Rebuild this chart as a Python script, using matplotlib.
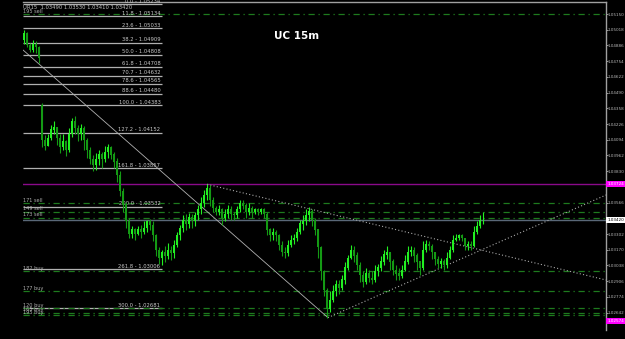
import matplotlib.pyplot as plt
import numpy as np

# 15m candles (price), open of each bar = previous close except the gap bar
first_open = 1.0493
gap_index = 6
gap_open = 1.0438

closes = [
    1.0499, 1.0489, 1.0485, 1.0490, 1.0487, 1.0478, 1.0409, 1.0404, 1.0411, 1.0418,
    1.0420, 1.0411, 1.0403, 1.0408, 1.0401, 1.0414, 1.0425, 1.0419, 1.0414, 1.0419,
    1.0409, 1.0401, 1.0393, 1.0388, 1.0393, 1.0397, 1.0393, 1.0399, 1.0403, 1.0397,
    1.0391, 1.0380, 1.0366, 1.0355, 1.0341, 1.0330, 1.0334, 1.0330, 1.0334, 1.0332,
    1.0335, 1.0341, 1.0338, 1.0329, 1.0317, 1.0310, 1.0315, 1.0312, 1.0317, 1.0314,
    1.0321, 1.0329, 1.0335, 1.0342, 1.0339, 1.0344, 1.0341, 1.0346, 1.0351, 1.0356,
    1.0363, 1.0369, 1.0359, 1.0352, 1.0349, 1.0351, 1.0344, 1.0347, 1.0351, 1.0347,
    1.0346, 1.0351, 1.0356, 1.0354, 1.0349, 1.0352, 1.0349, 1.0351, 1.0349, 1.0351,
    1.0347, 1.0334, 1.0329, 1.0332, 1.0329, 1.0321, 1.0315, 1.0314, 1.0321, 1.0325,
    1.0327, 1.0332, 1.0339, 1.0341, 1.0346, 1.0349, 1.0342, 1.0334, 1.0319, 1.0299,
    1.0283, 1.0267, 1.0275, 1.0282, 1.0288, 1.0285, 1.0292, 1.0302, 1.0310, 1.0317,
    1.0312, 1.0304, 1.0296, 1.0290, 1.0297, 1.0293, 1.0292, 1.0299, 1.0302, 1.0307,
    1.0313, 1.0315, 1.0307, 1.0300, 1.0297, 1.0295, 1.0300, 1.0307, 1.0315, 1.0317,
    1.0312, 1.0307, 1.0302, 1.0317, 1.0322, 1.0320, 1.0315, 1.0309, 1.0305, 1.0307,
    1.0304, 1.0310, 1.0317, 1.0325, 1.0327, 1.0329, 1.0327, 1.0320, 1.0322, 1.0320,
    1.0332, 1.0337, 1.0342, 1.0342,
]
highs = [
    1.0502, 1.0500, 1.0491, 1.0493, 1.0492, 1.0488, 1.0440, 1.0413, 1.0414, 1.0422,
    1.0425, 1.0420, 1.0414, 1.0414, 1.0409, 1.0419, 1.0428, 1.0429, 1.0422, 1.0423,
    1.0421, 1.0411, 1.0403, 1.0397, 1.0398, 1.0401, 1.0399, 1.0404, 1.0406, 1.0404,
    1.0399, 1.0394, 1.0383, 1.0369, 1.0357, 1.0344, 1.0337, 1.0335, 1.0337, 1.0338,
    1.0341, 1.0342, 1.0343, 1.0341, 1.0330, 1.0319, 1.0317, 1.0320, 1.0323, 1.0320,
    1.0325, 1.0332, 1.0338, 1.0346, 1.0347, 1.0348, 1.0347, 1.0349, 1.0355, 1.0361,
    1.0367, 1.0372, 1.0371, 1.0361, 1.0354, 1.0355, 1.0352, 1.0351, 1.0355, 1.0354,
    1.0349, 1.0354, 1.0359, 1.0359, 1.0356, 1.0356, 1.0354, 1.0352, 1.0352, 1.0352,
    1.0352, 1.0349, 1.0335, 1.0335, 1.0334, 1.0330, 1.0324, 1.0319, 1.0325, 1.0329,
    1.0330, 1.0335, 1.0342, 1.0346, 1.0351, 1.0353, 1.0351, 1.0344, 1.0334, 1.0320,
    1.0300, 1.0285, 1.0282, 1.0287, 1.0292, 1.0292, 1.0296, 1.0307, 1.0313, 1.0321,
    1.0320, 1.0315, 1.0307, 1.0299, 1.0302, 1.0300, 1.0299, 1.0304, 1.0305, 1.0312,
    1.0317, 1.0320, 1.0315, 1.0309, 1.0304, 1.0302, 1.0304, 1.0313, 1.0320, 1.0320,
    1.0319, 1.0314, 1.0307, 1.0324, 1.0325, 1.0324, 1.0322, 1.0315, 1.0312, 1.0310,
    1.0309, 1.0315, 1.0320, 1.0329, 1.0330, 1.0330, 1.0330, 1.0327, 1.0324, 1.0324,
    1.0337, 1.0341, 1.0346, 1.0349,
]
lows = [
    1.0490, 1.0487, 1.0483, 1.0483, 1.0482, 1.0474, 1.0403, 1.0401, 1.0404, 1.0409,
    1.0414, 1.0405, 1.0398, 1.0401, 1.0396, 1.0399, 1.0412, 1.0414, 1.0408, 1.0409,
    1.0401, 1.0394, 1.0389, 1.0383, 1.0384, 1.0388, 1.0386, 1.0391, 1.0394, 1.0393,
    1.0386, 1.0374, 1.0362, 1.0349, 1.0335, 1.0327, 1.0327, 1.0325, 1.0329, 1.0327,
    1.0330, 1.0332, 1.0334, 1.0324, 1.0312, 1.0305, 1.0304, 1.0307, 1.0309, 1.0308,
    1.0310, 1.0319, 1.0325, 1.0332, 1.0334, 1.0335, 1.0335, 1.0337, 1.0342, 1.0347,
    1.0353, 1.0359, 1.0354, 1.0349, 1.0346, 1.0346, 1.0338, 1.0341, 1.0344, 1.0342,
    1.0342, 1.0344, 1.0349, 1.0351, 1.0344, 1.0346, 1.0344, 1.0347, 1.0346, 1.0347,
    1.0344, 1.0329, 1.0324, 1.0325, 1.0324, 1.0317, 1.0312, 1.0310, 1.0312, 1.0319,
    1.0322, 1.0324, 1.0330, 1.0334, 1.0338, 1.0341, 1.0337, 1.0329, 1.0310, 1.0292,
    1.0278, 1.0260, 1.0265, 1.0273, 1.0278, 1.0280, 1.0283, 1.0288, 1.0300, 1.0309,
    1.0307, 1.0300, 1.0290, 1.0286, 1.0288, 1.0290, 1.0288, 1.0290, 1.0295, 1.0299,
    1.0304, 1.0309, 1.0300, 1.0296, 1.0292, 1.0292, 1.0293, 1.0299, 1.0305, 1.0312,
    1.0307, 1.0300, 1.0296, 1.0300, 1.0315, 1.0317, 1.0309, 1.0304, 1.0302, 1.0302,
    1.0300, 1.0302, 1.0309, 1.0315, 1.0324, 1.0325, 1.0324, 1.0317, 1.0317, 1.0317,
    1.0319, 1.0330, 1.0335, 1.0339,
]

# fibonacci retracement / expansion levels
fib_pct = ["0.0", "11.8", "23.6", "38.2", "50.0", "61.8", "70.7", "78.6", "88.6",
           "100.0", "127.2", "161.8", "200.0", "261.8", "300.0"]
fib_price = [1.05234, 1.05134, 1.05033, 1.04909, 1.04808, 1.04708, 1.04632, 1.04565,
             1.04480, 1.04383, 1.04152, 1.03857, 1.03532, 1.03006, 1.02681]

# sell / buy levels (dash-dot green)
level_names = ["195 sell", "171 sell", "149 sell", "173 sell", "182 buy", "177 buy",
               "120 buy", "165 buy", "195 buy"]
level_price = [1.0515, 1.0356, 1.0349, 1.0344, 1.0299, 1.0282, 1.0268, 1.0264, 1.0262]

# trend lines: (bar, price) pairs
trend_solid = [(-0.33, 1.04848), (101.3, 1.0260)]
trend_dot_a = [(61.0, 1.0372), (194.0, 1.02916)]
trend_dot_b = [(101.3, 1.0260), (194.0, 1.03630)]

magenta_price = 1.03724
bid_price = 1.03420
low_box_price = 1.02574

axis_ticks = [1.05150, 1.05018, 1.04886, 1.04754, 1.04622, 1.04490, 1.04358, 1.04226,
              1.04094, 1.03962, 1.03830, 1.03566, 1.03302, 1.03170, 1.03038, 1.02906,
              1.02774, 1.02642]

header = "UR15  1.03490 1.03530 1.03410 1.03420"

n = len(closes)
x = np.arange(n)
c = np.array(closes)
o = np.concatenate([[first_open], c[:-1]])
o[gap_index] = gap_open
h = np.maximum(np.array(highs), np.maximum(o, c))
l = np.minimum(np.array(lows), np.minimum(o, c))

fig = plt.figure(figsize=(6.25, 3.39), dpi=100, facecolor="black")
ax = fig.add_axes([23 / 625, 1 - 330 / 339, 583 / 625, 328 / 339])
ax.set_facecolor("black")
ax.set_xlim(-0.33, 194.0)
ax.set_ylim(1.02496, 1.05251)

for s in ["left", "bottom"]:
    ax.spines[s].set_visible(False)
for s in ["top", "right"]:
    ax.spines[s].set_color("#a0a0a0")
    ax.spines[s].set_linewidth(1)

ax.set_xticks([])
ax.yaxis.tick_right()
ax.set_yticks(axis_ticks)
ax.set_yticklabels(["%.5f" % t for t in axis_ticks])
ax.tick_params(axis="y", labelsize=3.0, colors="#b8b8b8", length=1.2, width=0.6, pad=0.3)

# fib levels
for pct, p in zip(fib_pct, fib_price):
    ax.hlines(p, -0.33, 46, color="#b0b0b0", lw=0.9, zorder=2)
    ax.text(45.5, p + 0.00003, "%s - %.5f" % (pct, p), color="#c8c8c8", fontsize=3.8,
            ha="right", va="bottom", zorder=3)

# sell/buy levels
for name, p in zip(level_names, level_price):
    ax.hlines(p, -0.33, 194, color="#1e7a1e", lw=0.9, linestyles=[(0, (5, 3, 1, 3))], zorder=2)
    ax.text(-0.2, p + 0.00004, name, color="#b0b0b0", fontsize=3.6, ha="left", va="bottom", zorder=3)

# magenta line and bid line
ax.axhline(magenta_price, color="#8a0a8a", lw=1, zorder=2)
ax.axhline(bid_price, color="#5a6878", lw=1, zorder=2)

# trend lines
ax.plot(*zip(*trend_solid), color="#b0b0b0", lw=0.6, zorder=4)
ax.plot(*zip(*trend_dot_a), color="#a8a8a8", lw=0.8, ls=(0, (1, 2)), zorder=4)
ax.plot(*zip(*trend_dot_b), color="#a8a8a8", lw=0.8, ls=(0, (1, 2)), zorder=4)

# candles
up = c >= o
col = np.where(up, "#22f022", "#149a14")
ax.vlines(x, l, h, colors=col, lw=0.8, zorder=5)
ax.bar(x, np.abs(c - o) + 0.00002, bottom=np.minimum(o, c), width=0.7, color=col, lw=0, zorder=5)

# price boxes on the right axis
tr = ax.get_yaxis_transform()
box_kw = dict(transform=tr, fontsize=3.0, va="center", ha="left", clip_on=False, zorder=6)
ax.text(1.002, magenta_price, "%.5f" % magenta_price, color="white",
        bbox=dict(boxstyle="square,pad=0.25", fc="#ff00ff", ec="none"), **box_kw)
ax.text(1.002, bid_price, "%.5f" % bid_price, color="black",
        bbox=dict(boxstyle="square,pad=0.25", fc="white", ec="none"), **box_kw)
ax.text(1.002, low_box_price, "%.5f" % low_box_price, color="white",
        bbox=dict(boxstyle="square,pad=0.25", fc="#ff00ff", ec="none"), **box_kw)

ax.text(0.0, 0.992, header, transform=ax.transAxes, fontsize=3.8, color="#c0c0c0",
        ha="left", va="top", zorder=6)
ax.text(0.469, 0.895, "UC 15m", transform=ax.transAxes, fontsize=7.5, color="white",
        fontweight="bold", ha="center", va="center", zorder=6)

fig.savefig("out.png", dpi=100, facecolor="black")
